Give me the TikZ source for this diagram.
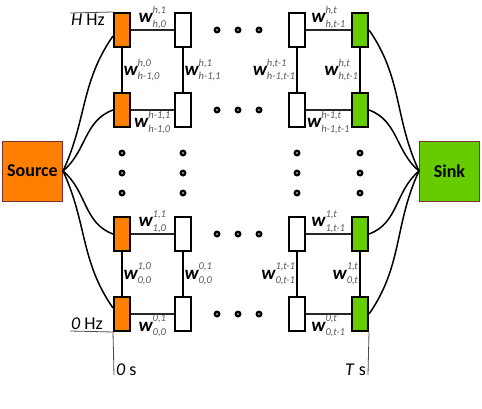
\documentclass[tikz,border=0pt]{standalone}
\usepackage{fontspec}
\usepackage{amsmath}
\setmainfont{Carlito}
\usetikzlibrary{positioning}

\definecolor{srcorange}{RGB}{255,128,0}
\definecolor{sinkgreen}{RGB}{102,204,0}
\definecolor{rim}{RGB}{128,48,48}
\newcommand{\wscript}{\fontsize{10.5}{12}\selectfont\color{black!65}\itshape}
\newcommand{\wgt}[2]{$\text{\fontsize{19}{21}\selectfont\bfseries\itshape w}^{\raisebox{4pt}{\wscript #1}}_{\raisebox{-1pt}{\wscript #2}}$}

\begin{document}
\begin{tikzpicture}[
    x=1pt, y=1pt,
    cell/.style={rectangle, draw, line width=2pt, minimum width=16pt, minimum height=34pt, inner sep=0pt},
    lowcell/.style={cell, fill=srcorange},
    highcell/.style={cell, fill=sinkgreen},
    emptycell/.style={cell, fill=white},
    terminal/.style={rectangle, draw=rim, line width=1pt, minimum size=60pt, font=\fontsize{18}{20}\selectfont\bfseries},
    hlink/.style={line width=1.2pt, draw=black!85},
    vlink/.style={line width=2pt},
    wire/.style={line width=1.5pt},
    axis/.style={line width=0.8pt, draw=black!70},
    wlab/.style={font=\fontsize{15}{17}\selectfont, inner sep=0.5pt},
    axlab/.style={font=\fontsize{18}{20}\selectfont, inner sep=1pt}
]
\useasboundingbox (0,0) rectangle (482,408);

% Source and sink
\node [terminal, fill=srcorange] (source) at (32.5,237) {Source};
\node [terminal, fill=sinkgreen] (sink) at (449.5,237) {Sink};

% Grid cells (rows h, h-1, 1, 0)
\foreach \r/\y in {h/378, h1/298, 1/174, 0/94} {
    \node [lowcell] (o-\r) at (122,\y) {};
    \node [emptycell] (c-\r) at (183,\y) {};
    \node [emptycell] (d-\r) at (297,\y) {};
    \node [highcell] (g-\r) at (360,\y) {};
}

% Upper links
\draw [hlink] (o-h) -- node[wlab, above] {\wgt{h,1}{h,0}} (c-h);
\draw [hlink] (d-h) -- node[wlab, above] {\wgt{h,t}{h,t-1}} (g-h);
\draw [vlink] (o-h) -- node[wlab, right] {\wgt{h,0}{h-1,0}} (o-h1);
\draw [vlink] (c-h) -- node[wlab, right] {\wgt{h,1}{h-1,1}} (c-h1);
\draw [vlink] (d-h) -- node[wlab, left] {\wgt{h,t-1}{h-1,t-1}} (d-h1);
\draw [vlink] (g-h) -- node[wlab, left] {\wgt{h,t}{h,t-1}} (g-h1);
\draw [hlink] (o-h1) -- node[wlab, below] {\wgt{h-1,1}{h-1,0}} (c-h1);
\draw [hlink] (d-h1) -- node[wlab, below] {\wgt{h-1,t}{h-1,t-1}} (g-h1);

% Lower links
\draw [hlink] (o-1) -- node[wlab, above] {\wgt{1,1}{1,0}} (c-1);
\draw [hlink] (d-1) -- node[wlab, above] {\wgt{1,t}{1,t-1}} (g-1);
\draw [vlink] (o-1) -- node[wlab, right] {\wgt{1,0}{0,0}} (o-0);
\draw [vlink] (c-1) -- node[wlab, right] {\wgt{0,1}{0,0}} (c-0);
\draw [vlink] (d-1) -- node[wlab, left] {\wgt{1,t-1}{0,t-1}} (d-0);
\draw [vlink] (g-1) -- node[wlab, left] {\wgt{1,t}{0,t}} (g-0);
\draw [hlink] (o-0) -- node[wlab, below] {\wgt{0,1}{0,0}} (c-0);
\draw [hlink] (d-0) -- node[wlab, below] {\wgt{0,t}{0,t-1}} (g-0);

% Ellipsis dots
\foreach \x in {217,238,259}
    \foreach \y in {378,298,174,94} {
        \fill (\x,\y) circle (3.5pt);
        \fill [white] (\x,\y) circle (0.9pt);
    }
\foreach \x in {122,183,297,360}
    \foreach \y in {255,235,215} {
        \fill (\x,\y) circle (3.5pt);
        \fill [white] (\x,\y) circle (0.9pt);
    }

% Wires to source and sink
\draw [wire] (source.east) to[out=65,in=235] ([yshift=-6pt]o-h.west);
\draw [wire] (source.east) to[out=40,in=200] (o-h1.west);
\draw [wire] (source.east) to[out=-40,in=160] (o-1.west);
\draw [wire] (source.east) to[out=-65,in=125] ([yshift=6pt]o-0.west);
\draw [wire] (g-h.east) to[out=-55,in=115] (sink.west);
\draw [wire] (g-h1.east) to[out=-20,in=140] (sink.west);
\draw [wire] (g-1.east) to[out=20,in=220] (sink.west);
\draw [wire] (g-0.east) to[out=55,in=245] (sink.west);

% Frequency and time axes
\coordinate (hz-top) at (70,395);
\coordinate (hz-bot) at (70,77);
\coordinate (t-zero) at (114,33);
\coordinate (t-end) at (368,33);
\draw [axis] (hz-top) -- (o-h.north west);
\draw [axis] (hz-bot) -- (o-0.south west);
\draw [axis] (o-0.south west) -- (t-zero);
\draw [axis] (g-0.south east) -- (t-end);
\node [axlab, anchor=north west] (lab-htop) at (hz-top) {\textit{H} Hz};
\node [axlab, anchor=south west] (lab-hbot) at (hz-bot) {\textit{0} Hz};
\node [axlab, anchor=base west] (lab-tzero) at ([xshift=1pt]t-zero) {\textit{0} s};
\node [axlab, anchor=base east] (lab-tend) at ([xshift=-1pt]t-end) {\textit{T} s};

\end{tikzpicture}
\end{document}
